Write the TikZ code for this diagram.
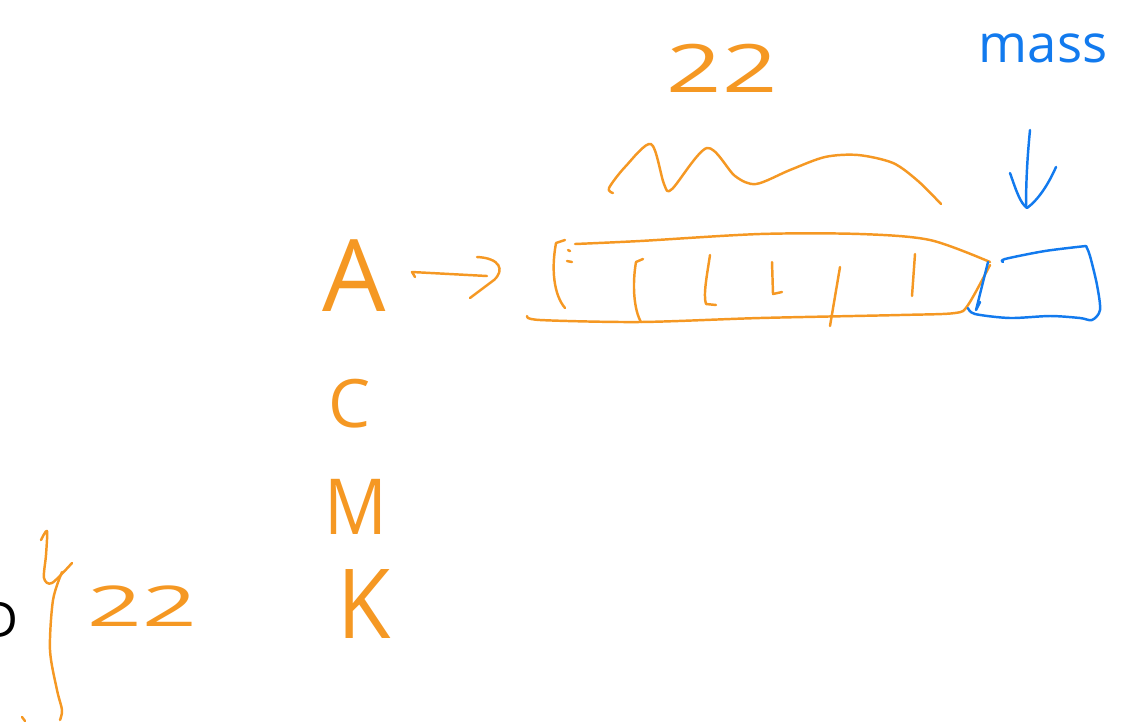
\documentclass[tikz,border=0pt]{standalone}
\usepackage{fontspec}
\setmainfont{Open Sans}
\usetikzlibrary{positioning}
\definecolor{penorange}{RGB}{245,152,35}
\definecolor{penblue}{RGB}{18,122,238}
\newcommand{\pensize}[1]{\fontsize{#1}{#1}\selectfont}

\begin{document}
\begin{tikzpicture}[x=0.02cm,y=-0.02cm,
  pen/.style={draw=penorange,line width=1.4pt,line cap=round,line join=round},
  bluepen/.style={draw=penblue,line width=1.4pt,line cap=round,line join=round},
  letter/.style={text=penorange,inner sep=0pt},
  note/.style={inner sep=0pt}
]
  \useasboundingbox (0,0) rectangle (1128,721);

  %% ---- column of letters ----
  \node[letter,font=\pensize{57pt}] (la) at (354,276) {A};
  \node[letter,font=\pensize{38pt}] (lc) at (350,404) {C};
  \node[letter,font=\pensize{44pt},xscale=0.9] (lm) at (356,507) {M};
  \node[letter,font=\pensize{55pt},xscale=0.9] (lk) at (364,604) {K};

  %% ---- labels ----
  \node[letter,font=\pensize{38pt},xscale=1.45] (toplen) at (722,68) {22};
  \node[note,text=penblue,font=\pensize{30pt}] (mass) at (1043,48) {mass};
  \node[letter,font=\pensize{32pt},xscale=1.7] (lowlen) at (142,606) {22};
  \node[note,anchor=east,font=\pensize{28pt}] (dlbl) at (19,620) {D};

  %% ---- array strip ----
  \coordinate (stripw) at (557,275);
  \coordinate (stripe) at (988,265);
  \draw[pen] (565,240) -- (556,243) .. controls (551,270) and (554,295) .. (565,308);
  \draw[pen] (568,250) -- (570,251) (567,261) -- (572,262);
  \draw[pen] plot[smooth] coordinates {(575,244) (640,241) (760,234) (860,234) (930,240) (990,262)};
  \draw[pen] plot[smooth] coordinates {(527,316) (540,320) (640,322) (760,318) (900,315) (955,313) (968,305) (990,265)};
  \draw[pen] (643,259) -- (636,262) .. controls (632,285) and (634,310) .. (641,322);
  \draw[pen] (710,255) .. controls (707,275) and (703,295) .. (706,304) -- (716,305);
  \draw[pen] (772,262) -- (773,294) -- (782,292);
  \draw[pen] (840,267) -- (830,326);
  \draw[pen] (915,254) -- (912,296);

  %% ---- mass cell ----
  \draw[bluepen] (988,262) -- (976,310) -- (980,302);
  \draw[bluepen] plot[smooth] coordinates {(1003,262) (1005,259) (1045,251) (1086,246)};
  \draw[bluepen] plot[smooth] coordinates {(1086,246) (1090,256) (1097,285) (1100,310) (1092,320)
    (1080,318) (1050,316) (1010,318) (975,314) (968,308)};

  %% ---- span over the strip ----
  \draw[pen] plot[smooth] coordinates {(613,193) (609,188) (625,167) (651,144) (664,184) (672,189)
    (707,148) (735,176) (756,184) (790,170) (825,157) (858,155) (893,163) (918,181) (941,204)};

  %% ---- arrows ----
  \draw[pen] (415,277) -- (412,272) -- (487,276);
  \draw[pen] (477,257) .. controls (500,258) and (505,270) .. (494,280) -- (470,298);
  \draw[bluepen] (1030,130) .. controls (1027,160) and (1026,185) .. (1026,207);
  \draw[bluepen] (1010,173) .. controls (1016,190) and (1020,203) .. (1027,208)
    .. controls (1038,200) and (1048,185) .. (1056,167);

  %% ---- brace at the bottom left ----
  \draw[pen] plot[smooth] coordinates {(41,540) (47,531) (46,555) (44,578) (52,583) (72,563)};
  \draw[pen] plot[smooth] coordinates {(62,572) (53,600) (50,650) (57,690) (62,710) (60,720)};
  \draw[pen] (22,717) -- (25,721);
\end{tikzpicture}
\end{document}
